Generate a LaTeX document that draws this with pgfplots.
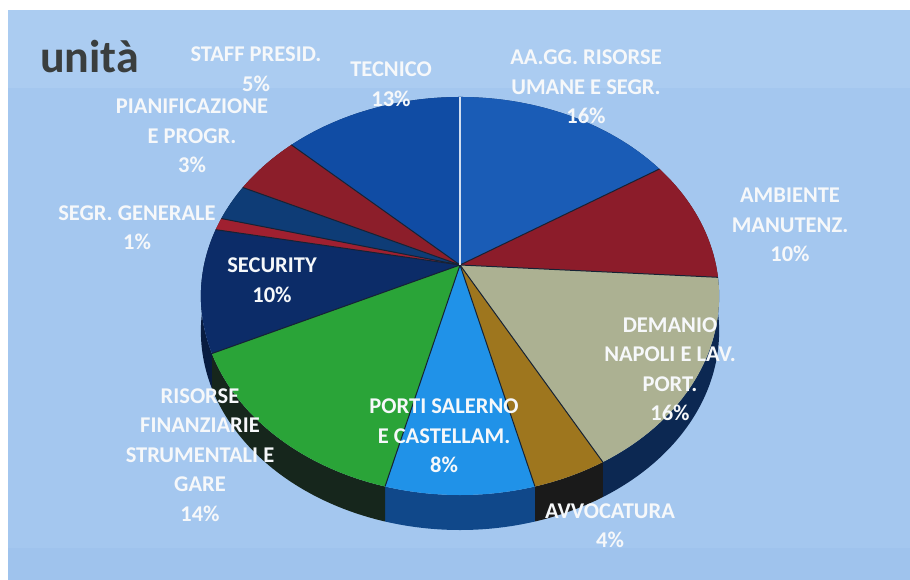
\documentclass[border=0pt]{standalone}
\usepackage{pgfplots}
\pgfplotsset{compat=1.18}
\usepackage{pgfplotstable}
\usepackage{fontspec}
\setmainfont{Carlito}

\definecolor{bgmain}{RGB}{164,199,239}
\definecolor{bgtop}{RGB}{171,204,241}
\definecolor{bgbot}{RGB}{159,195,237}
\definecolor{titlec}{RGB}{58,62,62}
\definecolor{labc}{RGB}{246,248,250}
\definecolor{sepc}{RGB}{22,34,52}

\definecolor{c0}{RGB}{26,92,182}
\definecolor{c1}{RGB}{140,28,42}
\definecolor{c2}{RGB}{172,177,146}
\definecolor{c3}{RGB}{158,118,30}
\definecolor{c4}{RGB}{32,146,232}
\definecolor{c5}{RGB}{42,164,56}
\definecolor{c6}{RGB}{12,44,104}
\definecolor{c7}{RGB}{160,32,48}
\definecolor{c8}{RGB}{14,60,118}
\definecolor{c9}{RGB}{140,30,42}
\definecolor{c10}{RGB}{16,76,164}

\definecolor{s0}{RGB}{14,50,100}
\definecolor{s1}{RGB}{80,16,24}
\definecolor{s2}{RGB}{12,40,82}
\definecolor{s3}{RGB}{26,26,26}
\definecolor{s4}{RGB}{16,72,138}
\definecolor{s5}{RGB}{22,38,28}
\definecolor{s6}{RGB}{8,28,64}
\definecolor{s7}{RGB}{90,18,26}
\definecolor{s8}{RGB}{8,34,70}
\definecolor{s9}{RGB}{80,16,24}
\definecolor{s10}{RGB}{10,44,96}

% slices, clockwise from 12 o'clock
\pgfplotstableread{
idx pct
0 16
1 10
2 16
3 4
4 8
5 14
6 10
7 1
8 3
9 5
10 13
}\piedata

\begin{document}
\begin{tikzpicture}[lab/.style={align=center,text=labc,inner sep=0pt,
    font=\fontsize{22.5}{29.5}\selectfont\bfseries}]
\pgfmathsetmacro\pieA{256}
\pgfmathsetmacro\pieB{194.2}
\pgfmathsetmacro\pieE{0.1558}
\pgfmathsetmacro\ome{1-\pieE*\pieE}
\pgfmathsetmacro\sqe{sqrt(\ome)}
\pgfmathsetmacro\vz{\pieE/\ome}
\pgfmathsetmacro\rx{\pieA/\sqe}
\pgfmathsetmacro\ry{\pieB/\ome}
\pgfmathsetmacro\cy{315-\pieB*\vz}
\gdef\cum{0}
\foreach \i in {0,...,10}{%
  \pgfplotstablegetelem{\i}{pct}\of\piedata
  \pgfmathsetmacro\fb{\cum+\pgfplotsretval}%
  \pgfmathsetmacro\tha{3.6*\cum}%
  \pgfmathsetmacro\thb{3.6*\fb}%
  \pgfmathsetmacro\da{1+\pieE*cos(\tha)}%
  \pgfmathsetmacro\db{1+\pieE*cos(\thb)}%
  \pgfmathsetmacro\ta{atan2((cos(\tha)/\da+\vz)*\ome, sin(\tha)/\da*\sqe)}%
  \pgfmathsetmacro\tb{atan2((cos(\thb)/\db+\vz)*\ome, sin(\thb)/\db*\sqe)}%
  \pgfmathsetmacro\tb{\tb>\ta ? \tb-360 : \tb}%
  \pgfmathsetmacro\xa{460+\rx*cos(\ta)}%
  \pgfmathsetmacro\ya{\cy+\ry*sin(\ta)}%
  \expandafter\xdef\csname pta\i\endcsname{\ta}%
  \expandafter\xdef\csname ptb\i\endcsname{\tb}%
  \expandafter\xdef\csname pxa\i\endcsname{\xa}%
  \expandafter\xdef\csname pya\i\endcsname{\ya}%
  \xdef\cum{\fb}%
}
\begin{axis}[x=1pt,y=1pt,xmin=0,xmax=910,ymin=0,ymax=580,
  hide axis,scale only axis,clip=false]
% background
\fill[white] (axis cs:0,0) rectangle (axis cs:910,580);
\fill[bgmain] (axis cs:8,0) rectangle (axis cs:910,570);
\fill[bgtop] (axis cs:8,492) rectangle (axis cs:910,570);
\fill[bgbot] (axis cs:8,0) rectangle (axis cs:910,32);
% side walls
\pgfplotsinvokeforeach{0,...,10}{
  \fill[s#1] (axis cs:{\csname pxa#1\endcsname},{\csname pya#1\endcsname})
    arc[start angle=\csname pta#1\endcsname, end angle=\csname ptb#1\endcsname, x radius=\rx pt, y radius=\ry pt]
    -- ++(0pt,-35pt)
    arc[start angle=\csname ptb#1\endcsname, end angle=\csname pta#1\endcsname, x radius=\rx pt, y radius=\ry pt]
    -- cycle;
}
% top faces
\pgfplotsinvokeforeach{0,...,10}{
  \fill[c#1] (axis cs:460,315) -- (axis cs:{\csname pxa#1\endcsname},{\csname pya#1\endcsname})
    arc[start angle=\csname pta#1\endcsname, end angle=\csname ptb#1\endcsname, x radius=\rx pt, y radius=\ry pt]
    -- cycle;
}
\pgfplotsinvokeforeach{1,...,10}{
  \draw[sepc,line width=1pt] (axis cs:460,315) -- (axis cs:{\csname pxa#1\endcsname},{\csname pya#1\endcsname});
}
\draw[white!80!c0,line width=1.2pt] (axis cs:460,315) -- (axis cs:{\csname pxa0\endcsname},{\csname pya0\endcsname});
% title
\node[anchor=base west,inner sep=0pt,text=titlec,font=\fontsize{46}{52}\selectfont\bfseries] at (axis cs:40,507) {unità};
% labels
\node[lab] at (axis cs:256,511) {STAFF PRESID.\\5\%};
\node[lab] at (axis cs:391,496) {TECNICO\\13\%};
\node[lab] at (axis cs:586,493) {AA.GG. RISORSE\\UMANE E SEGR.\\16\%};
\node[lab] at (axis cs:192,444) {PIANIFICAZIONE\\E PROGR.\\3\%};
\node[lab] at (axis cs:790,355) {AMBIENTE\\MANUTENZ.\\10\%};
\node[lab] at (axis cs:137,352.5) {SEGR. GENERALE\\1\%};
\node[lab] at (axis cs:272,300) {SECURITY\\10\%};
\node[lab] at (axis cs:670,211) {DEMANIO\\NAPOLI E LAV.\\PORT.\\16\%};
\node[lab] at (axis cs:444,144) {PORTI SALERNO\\E CASTELLAM.\\8\%};
\node[lab] at (axis cs:200,125) {RISORSE\\FINANZIARIE\\STRUMENTALI E\\GARE\\14\%};
\node[lab] at (axis cs:610,54.5) {AVVOCATURA\\4\%};
\end{axis}
\end{tikzpicture}
\end{document}
